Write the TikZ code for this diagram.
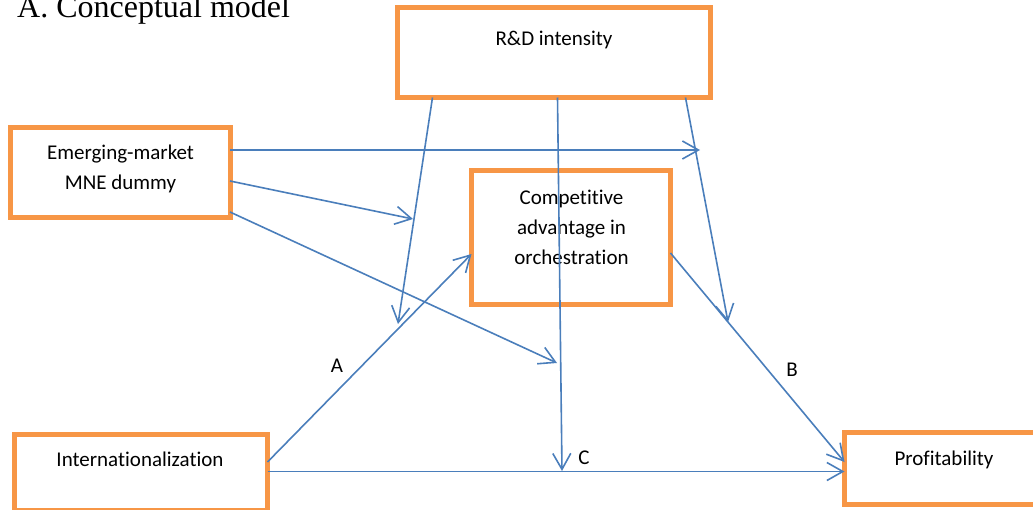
\documentclass[tikz,border=0pt]{standalone}
\usepackage{fontspec}
\setmainfont{Carlito}[Ligatures=NoCommon]
\newfontfamily\titlefont{Liberation Serif}
\usetikzlibrary{arrows.meta}
\definecolor{boxorange}{HTML}{F79646}
\definecolor{linkblue}{HTML}{4A7EBB}

\begin{document}
\begin{tikzpicture}[
  x=1pt, y=-1pt,
  var_box/.style={rectangle, draw=boxorange, line width=5pt, inner sep=0pt, outer sep=0pt},
  box_text/.style={inner sep=0pt, font=\fontsize{21}{30}\selectfont, align=center},
  path_label/.style={inner sep=0pt, font=\fontsize{21}{24}\selectfont},
  link/.style={draw=linkblue, line width=1.6pt, -{Straight Barb[length=16pt, width=18pt, line width=1.6pt]}},
]
\useasboundingbox (0,0) rectangle (1033,509);

% title
\node[anchor=base west, inner sep=0pt, font=\titlefont\fontsize{32}{38}\selectfont] (title) at (17,17) {A. Conceptual model};

% boxes
\node[var_box, minimum width=313pt, minimum height=90pt] (rd) at (554,52.5) {};
\node[var_box, minimum width=220pt, minimum height=90pt] (em) at (120,172) {};
\node[var_box, minimum width=199pt, minimum height=134pt] (ca) at (571,237.5) {};
\node[var_box, minimum width=253pt, minimum height=76pt] (in) at (141,472.5) {};
\node[var_box, minimum width=200pt, minimum height=72pt] (pr) at (944.5,468.5) {};

% box texts
\node[box_text, anchor=base] (rd_text) at (554,45) {R\&D intensity};
\node[box_text] (em_text) at (120.5,168.5) {Emerging-market\\MNE dummy};
\node[box_text] (ca_text) at (571.5,227.5) {Competitive\\advantage in\\orchestration};
\node[box_text, anchor=base] (in_text) at (140,466) {Internationalization};
\node[box_text, anchor=base] (pr_text) at (944,465) {Profitability};

% ends on other paths
\coordinate (tip_a) at (398,324);
\coordinate (tip_c) at (562,471);
\coordinate (tip_b) at (728,322);
\coordinate (tip_em1) at (700,150);
\coordinate (tip_em2) at (413,219);
\coordinate (tip_em3) at (557,363);

% main paths
\draw[link] ([yshift=-27.5pt]in.north east) -- ([yshift=-16.5pt]ca.west);
\draw[link] ([yshift=-15.5pt]ca.east) -- ([yshift=-29.5pt]pr.north west);
\draw[link] ([yshift=-37pt]in.north east) -- ([yshift=-39pt]pr.north west);

% moderation
\draw[link] ([xshift=35pt]rd.south west) -- (tip_a);
\draw[link] ([xshift=160pt]rd.south west) -- (tip_c);
\draw[link] ([xshift=-25pt]rd.south east) -- (tip_b);
\draw[link] ([yshift=22pt]em.east) -- (tip_em1);
\draw[link] ([yshift=-9pt]em.east) -- (tip_em2);
\draw[link] ([yshift=-40pt]em.east) -- (tip_em3);

% path labels
\node[path_label, anchor=base] (lbl_a) at (337,372) {A};
\node[path_label, anchor=base] (lbl_b) at (792,376) {B};
\node[path_label, anchor=base] (lbl_c) at (584,464) {C};
\end{tikzpicture}
\end{document}
